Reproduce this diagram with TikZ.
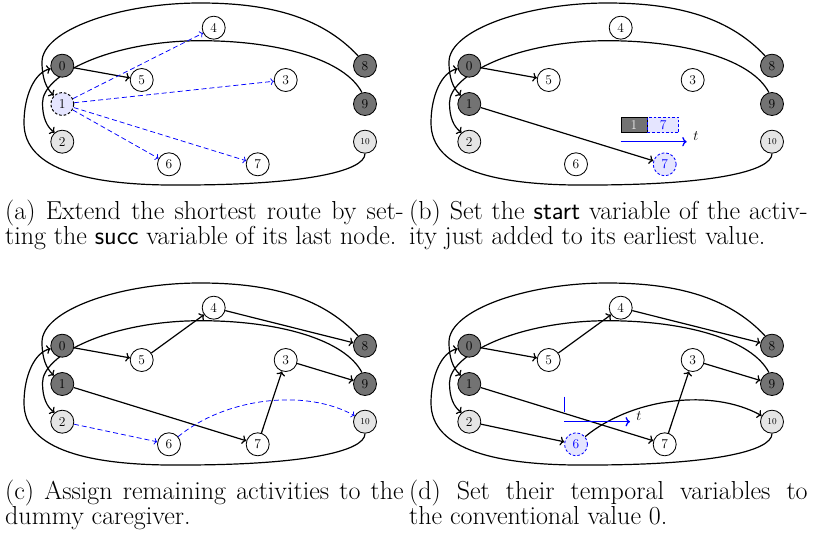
\documentclass[tikz,border=0pt]{standalone}
\usetikzlibrary{arrows.meta}
\pgfdeclarelayer{bg}
\pgfsetlayers{bg,main}
\tikzset{
  x=1pt, y=-1pt,
  nd/.style={circle, draw, line width=0.85pt, minimum size=23pt, inner sep=0pt,
             font=\fontsize{13.5}{13.5}\selectfont},
  dk/.style={nd, fill=black!55},
  lt/.style={nd, fill=gray!20},
  wt/.style={nd, fill=white},
  cur/.style={nd, fill=blue!10, line width=1pt, dash pattern=on 2.6pt off 2pt},
  act/.style={nd, fill=blue!10, draw=blue, dash pattern=on 2.6pt off 2pt, text=blue},
  tinylab/.style={font=\fontsize{9}{9}\selectfont},
  lnk/.style={line width=1.2pt, ->},
  cand/.style={blue, line width=0.75pt, dash pattern=on 5pt off 3pt, ->},
  taxis/.style={blue, line width=1.3pt, ->},
  gbox/.style={rectangle, inner sep=0pt, minimum height=15.6pt, anchor=north west,
               font=\fontsize{13.5}{13.5}\selectfont},
  tlab/.style={inner sep=0pt, font=\fontsize{13.5}{13.5}\selectfont},
  captext/.style={anchor=base west, inner sep=0pt, font=\fontsize{26}{25}\selectfont},
  n1/.style={dk}, n6/.style={wt}, n7/.style={wt},
}

% the eleven activity nodes of one panel and the three route-closing arcs
\newcommand\placenodes[1]{%
  \node[dk] (#1-0) at (62.3,65.7) {0};
  \node[n1] (#1-1) at (62.3,104) {1};
  \node[lt] (#1-2) at (62.3,141.7) {2};
  \node[wt] (#1-3) at (285.7,80) {3};
  \node[wt] (#1-4) at (213.7,27.7) {4};
  \node[wt] (#1-5) at (141.7,80) {5};
  \node[n6] (#1-6) at (169,164.3) {6};
  \node[n7] (#1-7) at (257.7,164.3) {7};
  \node[dk] (#1-8) at (365,65.7) {8};
  \node[dk] (#1-9) at (365,104) {9};
  \node[lt,tinylab] (#1-10) at (365,141.7) {10};
  \begin{pgfonlayer}{bg}
    \draw[lnk] (#1-8.125) .. controls (320,15) and (265,3) .. (200,3)
      .. controls (120,3) and (42,30) .. (42,62)
      .. controls (42,78) and (46,88) .. (#1-1.135);
    \draw[lnk] (#1-9.105) .. controls (345,60) and (280,40.7) .. (200,40.7)
      .. controls (110,41) and (42,75) .. (42.5,103)
      .. controls (42.5,118) and (47,127) .. (#1-2.130);
    \draw[lnk] (#1-10.south) .. controls (365,172) and (300,185) .. (183,185)
      .. controls (90,186) and (24,170) .. (24,123)
      .. controls (24,95) and (35,72) .. (#1-0.195);
    \draw[lnk] (#1-0) -- (#1-5);
  \end{pgfonlayer}
}

\begin{document}
\begin{tikzpicture}
\useasboundingbox (0,0) rectangle (814,533);

% (a) candidate successors of the last node
\begin{scope}[n1/.style={cur}]
  \placenodes{a}
  \begin{pgfonlayer}{bg}
    \foreach \k in {4,3,6,7} \draw[cand] (a-1) -- (a-\k);
  \end{pgfonlayer}
\end{scope}

% (b) start time of the added activity
\begin{scope}[shift={(407,0)}, n7/.style={act}]
  \placenodes{b}
  \begin{pgfonlayer}{bg}
    \draw[lnk] (b-1) -- (b-7);
  \end{pgfonlayer}
  \node[gbox, draw, line width=0.6pt, fill=black!55, text=gray!15, minimum width=26pt]
    (b-g1) at (213.7,116.7) {1};
  \node[gbox, draw=blue, line width=0.9pt, dash pattern=on 2.6pt off 2pt, fill=blue!10,
        text=blue, minimum width=31pt, anchor=north west] (b-g7) at (b-g1.north east) {7};
  \coordinate (b-t0) at (213.7,141.7);
  \coordinate (b-t1) at (279.7,141.7);
  \draw[taxis] (b-t0) -- (b-t1);
  \node[tlab] (b-tl) at (289,136) {$t$};
\end{scope}

% (c) remaining activities on the dummy caregiver
\begin{scope}[shift={(0,280)}]
  \placenodes{c}
  \begin{pgfonlayer}{bg}
    \draw[lnk] (c-5) -- (c-4);
    \draw[lnk] (c-4) -- (c-8);
    \draw[lnk] (c-1) -- (c-7);
    \draw[lnk] (c-7) -- (c-3);
    \draw[lnk] (c-3) -- (c-9);
    \draw[cand] (c-2) -- (c-6);
    \draw[cand] (c-6.40) .. controls (225,118) and (305,108) .. (c-10.150);
  \end{pgfonlayer}
\end{scope}

% (d) temporal variables fixed to zero
\begin{scope}[shift={(407,280)}, n6/.style={act}]
  \placenodes{d}
  \begin{pgfonlayer}{bg}
    \draw[lnk] (d-5) -- (d-4);
    \draw[lnk] (d-4) -- (d-8);
    \draw[lnk] (d-1) -- (d-7);
    \draw[lnk] (d-7) -- (d-3);
    \draw[lnk] (d-3) -- (d-9);
    \draw[lnk] (d-2) -- (d-6);
    \draw[lnk] (d-6.40) .. controls (225,118) and (305,108) .. (d-10.150);
  \end{pgfonlayer}
  \coordinate (d-z0) at (157.3,116.7);
  \coordinate (d-z1) at (157.3,132.3);
  \draw[blue, line width=1.3pt] (d-z0) -- (d-z1);
  \coordinate (d-t0) at (157.3,141.7);
  \coordinate (d-t1) at (223,141.7);
  \draw[taxis] (d-t0) -- (d-t1);
  \node[tlab] (d-tl) at (232,136) {$t$};
\end{scope}

% sub-captions
\node[captext] (cap-a1) at (5,219) {\makebox[398.5pt][s]{(a) Extend the shortest route by set-}};
\node[captext] (cap-a2) at (5,244) {ting the \textsf{succ} variable of its last node.};
\node[captext] (cap-b1) at (409,219) {\makebox[398.5pt][s]{(b) Set the \textsf{start} variable of the activ-}};
\node[captext] (cap-b2) at (409,244) {ity just added to its earliest value.};
\node[captext] (cap-c1) at (5,499) {\makebox[398.5pt][s]{(c) Assign remaining activities to the}};
\node[captext] (cap-c2) at (5,524) {dummy caregiver.};
\node[captext] (cap-d1) at (409,499) {\makebox[398.5pt][s]{(d) Set their temporal variables to}};
\node[captext] (cap-d2) at (409,524) {the conventional value 0.};
\end{tikzpicture}
\end{document}
